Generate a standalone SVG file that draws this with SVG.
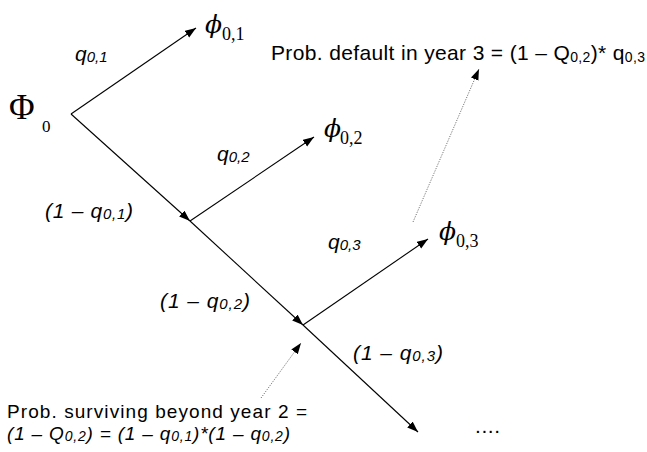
<svg xmlns="http://www.w3.org/2000/svg" width="647" height="452" viewBox="0 0 647 452">
<style>
.ln{stroke:#000;stroke-width:1.1;fill:none;marker-end:url(#ah)}
.dt{stroke:#777;stroke-width:1;stroke-dasharray:1.2 1.3;fill:none;marker-end:url(#ah)}
.s{font-family:"Liberation Sans",Arial,sans-serif;font-size:21px;fill:#000}
.i{font-family:"Liberation Sans",Arial,sans-serif;font-size:21px;font-style:italic;fill:#000}
.b{font-size:19px}
.sub{font-size:15px}
.sm{font-size:14px}
.ph{font-family:"DejaVu Serif","Liberation Serif",serif;font-style:italic;font-size:25px;fill:#000}
.ps{font-family:"Liberation Serif","DejaVu Serif",serif;font-style:normal;font-size:18px}
</style>
<defs>
<marker id="ah" markerUnits="userSpaceOnUse" markerWidth="12" markerHeight="9" refX="11" refY="4" orient="auto">
<path d="M0,0 L11,4 L0,8 z" fill="#000"/>
</marker>
</defs>
<g id="connectors">
<line class="ln" x1="71" y1="114" x2="196" y2="28"/>
<line class="ln" x1="71" y1="114" x2="190" y2="221"/>
<line class="ln" x1="190" y1="221" x2="314" y2="137"/>
<line class="ln" x1="190" y1="221" x2="303" y2="325"/>
<line class="ln" x1="303" y1="325" x2="428" y2="239"/>
<line class="ln" x1="303" y1="325" x2="418" y2="432"/>
<line class="dt" x1="413" y1="222" x2="479" y2="69"/>
<line class="dt" x1="261" y1="398" x2="301" y2="343"/>
</g>
<g id="Phi0">
<text x="9" y="119" style="font-family:'Liberation Serif','DejaVu Serif',serif;font-size:35px">Φ</text>
<text x="42" y="132" style="font-family:'Liberation Serif','DejaVu Serif',serif;font-size:17px">0</text>
</g>
<g id="phi01"><text class="ph" x="205" y="33">ϕ<tspan class="ps" x="222" y="40">0,1</tspan></text></g>
<g id="phi02"><text class="ph" x="324" y="137">ϕ<tspan class="ps" x="340" y="144">0,2</tspan></text></g>
<g id="phi03"><text class="ph" x="439" y="240">ϕ<tspan class="ps" x="456" y="247">0,3</tspan></text></g>
<g id="label-q01"><text class="i" x="75" y="61">q<tspan class="sub" dy="1">0,1</tspan></text></g>
<g id="label-q02"><text class="i" x="217" y="161">q<tspan class="sub" dy="1">0,2</tspan></text></g>
<g id="label-q03"><text class="i" x="328" y="249">q<tspan class="sub" dy="1">0,3</tspan></text></g>
<g id="label-1mq01"><text class="i" x="45" y="218" textLength="88">(1 – q<tspan class="sub" dy="1">0,1</tspan><tspan dy="-1">)</tspan></text></g>
<g id="label-1mq02"><text class="i" x="160" y="308" textLength="90">(1 – q<tspan class="sub" dy="1">0,2</tspan><tspan dy="-1">)</tspan></text></g>
<g id="label-1mq03"><text class="i" x="353" y="360" textLength="90">(1 – q<tspan class="sub" dy="1">0,3</tspan><tspan dy="-1">)</tspan></text></g>
<g id="dots"><text class="s" x="475" y="433" textLength="25">....</text></g>
<g id="note-default"><text class="s" x="271" y="60" textLength="374">Prob. default in year 3  = (1 – Q<tspan class="sm" dy="2">0,2</tspan><tspan dy="-2">)* q</tspan><tspan class="sm" dy="2">0,3</tspan></text></g>
<g id="note-surviving">
<text class="s b" x="7" y="418" textLength="300">Prob. surviving beyond year 2 =</text>
<text class="i b" x="7" y="440" textLength="283">(1 – Q<tspan class="sm" dy="1">0,2</tspan><tspan dy="-1">) = (1 – q</tspan><tspan class="sm" dy="1">0,1</tspan><tspan dy="-1">)*(1 – q</tspan><tspan class="sm" dy="1">0,2</tspan><tspan dy="-1">)</tspan></text>
</g>
</svg>
